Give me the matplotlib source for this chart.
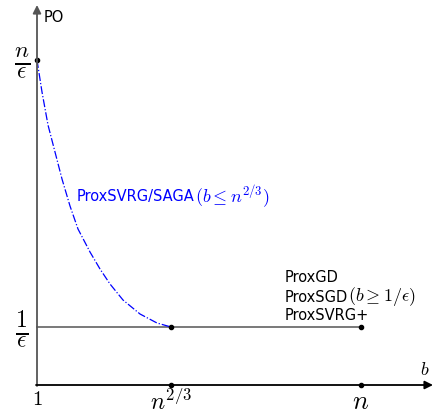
import numpy as np
import matplotlib
matplotlib.use('Agg')
import matplotlib.pyplot as plt

plt.rcParams['mathtext.fontset'] = 'cm'
plt.rcParams['font.family'] = ['DejaVu Sans']

# abstract positions on the b axis and PO axis
b_one = 0
b_mid = 134      # n^{2/3}
b_n = 324        # n
po_low = 58      # 1/eps
po_high = 325    # n/eps

# ProxSVRG/SAGA curve
curve_b = [0, 5, 11, 18, 25, 33, 41, 53, 63, 73, 86, 103, 120, 134]
curve_po = [325, 293, 260, 233, 206, 179, 156, 133, 116, 101, 85, 71, 62, 58]

x_ticks = [b_one, b_mid, b_n]
x_labels = ['$1$', '$n^{2/3}$', '$n$']
x_sizes = [15, 17, 19]

fig = plt.figure(figsize=(4.35, 4.14), dpi=100)
ax = fig.add_axes([0, 0, 1, 1])
ax.set_xlim(-37, 398)
ax.set_ylim(-28, 386)
ax.axis('off')

# axes with arrows
ax.annotate('', xy=(0, 380), xytext=(0, -1),
            arrowprops=dict(arrowstyle='-|>', color='#555555', lw=1.3,
                            mutation_scale=12, shrinkA=0, shrinkB=0))
ax.annotate('', xy=(396, 0), xytext=(-1, 0),
            arrowprops=dict(arrowstyle='-|>', color='black', lw=1.3,
                            mutation_scale=12, shrinkA=0, shrinkB=0))

# lines
ax.plot([b_one, b_n], [po_low, po_low], color='#555555', lw=1.1)
ax.plot(curve_b, curve_po, color='blue', lw=0.9, ls='-.')

# dots
ax.plot([b_one, b_mid, b_n, b_mid, b_n], [po_high, po_low, po_low, 0, 0],
        'o', color='black', ms=3)

# labels
ax.text(7, 369, 'PO', fontsize=10.5, va='center', ha='left')
ax.text(388, 16, '$b$', fontsize=13, va='center', ha='center')
ax.text(-15, po_high - 2, r'$\frac{n}{\epsilon}$', fontsize=24, va='center', ha='center')
ax.text(-15, po_low - 2, r'$\frac{1}{\epsilon}$', fontsize=24, va='center', ha='center')
for xt, lab, fs in zip(x_ticks, x_labels, x_sizes):
    ax.text(xt, -3, lab, fontsize=fs, va='top', ha='center')

t1 = ax.text(40, 189, 'ProxSVRG/SAGA', fontsize=10.5, color='blue',
             va='center', ha='left')
ax.annotate(r'$(b \leq n^{2/3})$', xy=(1, 0.5), xycoords=t1, fontsize=13,
            color='blue', va='center', ha='left')
ax.text(248, 108, 'ProxGD', fontsize=10.5, va='center', ha='left')
t2 = ax.text(248, 89, 'ProxSGD', fontsize=10.5, va='center', ha='left')
ax.annotate(r'$(b \geq 1/\epsilon)$', xy=(1, 0.5), xycoords=t2, fontsize=13,
            va='center', ha='left')
ax.text(248, 70, 'ProxSVRG+', fontsize=10.5, va='center', ha='left')

fig.savefig('out.png', dpi=100)
